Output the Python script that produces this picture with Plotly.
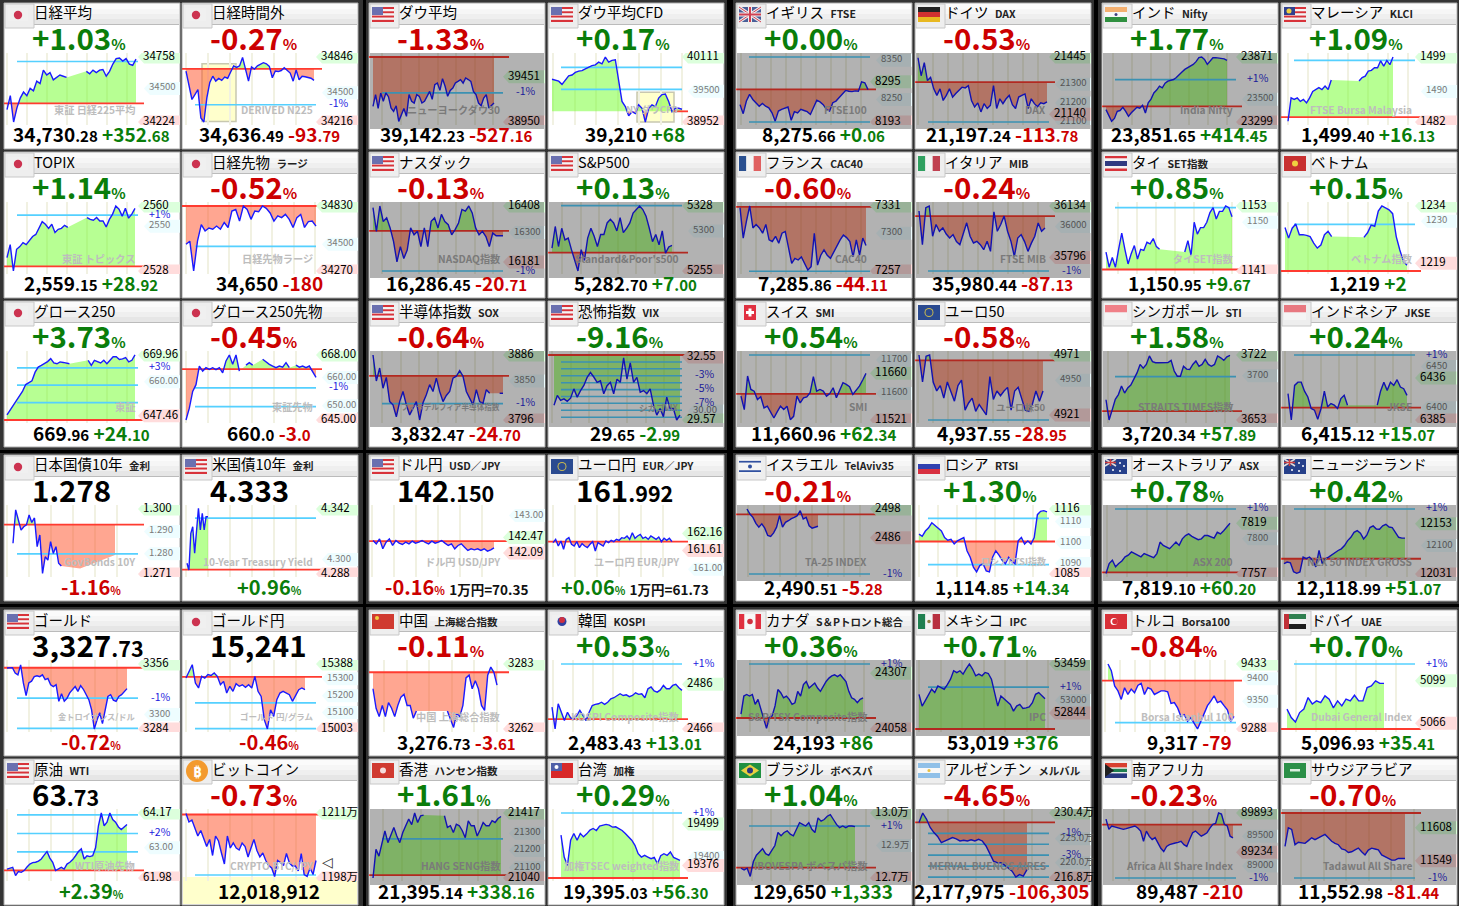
import plotly.graph_objects as go

W, H = 1459, 906
COL_X = [4, 182, 369, 548, 736, 915, 1102, 1281]
ROW_Y = [3, 152, 301, 455, 610, 759]
PW, PH = 176, 146

# ---------- series (None = no trade printed, the area still spans it) ----------
N = None
nikkei = [34326,34440,34224,34340,34420,34470,34440,34500,34480,34560,34540,34650,34610,34630,34570,34590,34610,34600,34590,N,N,N,N,N,34640,34620,34650,34630,34650,34655,34600,34640,34700,34745,34750,34725,34745,34700,34690,34740]
nikkei_ext = [34710,34580,34434,34482,34531,34255,34216,34450,34600,34660,34612,34638,34619,34651,34640,34700,34759,34745,34760,34842,34720,34612,34750,34730,34760,34775,34791,34780,34755,34645,34710,34705,34715,34742,34720,34690,34612,34720,34625,34660,34655,34645,34640,34620]
dow = [39123,39253,39100,39271,39180,39271,39230,39105,39068,39130,38957,39031,39100,39013,39253,39180,39160,39253,39234,39160,39180,39234,39289,39200,39363,39382,39300,39430,39345,39234,39300,39326,39382,39400,39419,39380,39437,39420,39400,39289,39253,39160,39130,39216,39253,39105,39130,39160]
dow_cfd = [39714,39696,39680,39623,39700,39775,39790,39836,39860,39867,39900,39928,39958,39970,40019,39989,40110,40019,40050,40062,39684,39318,39226,39062,39135,39104,39257,39196,38952,39196,39257,39226,39379,39440,39452,39318,39135,39196,39196,39180]
ftse = [8237,8214,8246,8263,8250,8242,8233,8240,8233,8229,8216,8195,8220.5,8225,8228,8231,8197,8219,8216,8225,8222,8219,8212,8229,8248,8244,8237,8225,8220.5,8242,8246,8255,8263,8273,8271,8270,8272,8271,8295,8292.5,8275]
dax = [21441,21345,21415,21319,21336,21275,21240,21275,21213,21240,21275,21231,21250,21266,21284,21280,21292,21213,21178,21200,21152,21196,21170,21187,21292,21170,21222,21196,21222,21240,21190,21170,21231,21240,21248,21170,21222,21196,21180,21200,21196,21205]
nifty = [23408,23349,23305,23330,23393,23400,23428,23393,23349,23380,23408,23428,23420,23446,23378,23467,23500,23555,23580,23614,23600,23640,23659,23665,23673,23690,23718,23740,23762,23775,23791,23806,23830,23865,23871,23850,23806,23840,23865,23865,23860,23859,23855,23841]
klci = [1482.2,1488.3,1487.9,1488.3,1487.4,1487.9,1487,1488.3,1490,1490.5,1491,1490.5,1491.4,1490.5,1493,N,N,N,N,N,N,N,N,1492.7,1493.6,1494,1495.3,1495.5,1496.2,1496.2,1498,1496.6,1498.1,1497,1499]
topix = [2534.6,2541,2528,2538.7,2540,2542,2541,2543,2545,2546,2549.3,2552.3,2551,2549,2551,2547,2548.5,2549,2550.5,2549.5,N,N,N,N,N,2554.3,2553.4,2553,2554.3,2552.6,2552.6,2549.7,2553.4,2556,2560,2558.4,2555,2558.9,2554,2556,2558.8]
n225fut = [34500,34527,34270,34527,34670,34615,34640,34630,34657,34630,34688,34645,34787,34800,34700,34830,34800,34715,34787,34780,34830,34810,34770,34700,34745,34730,34758,34715,34645,34730,34758,34645,34695,34700,34657]
nasdaq = [16401,16305,16408,16345,16360,16319,16264,16181,16243,16195,16229,16319,16291,16305,16243,16319,16243,16346,16360,16319,16374,16345,16332,16291,16312,16339,16394,16387,16408,16380,16319,16291,16305,16284,16243,16298,16287,16287,16287]
sp500 = [5280.6,5305,5282.5,5303,5290,5292,5279,5267,5255,5279,5267,5292,5303,5294,5282.5,5296,5296,5309,5313,5309,5300,5315,5298,5303,5309,5320,5324,5328,5324,5316.6,5303,5288,5296,5284.4,5300,5275,5282,5283.7]
cac = [7329,7294.5,7313.7,7331,7306,7310,7306,7300,7310,7292.5,7290.6,7296.4,7288.7,7300,7302,7283,7265.6,7271.4,7269.5,7273,7265.6,7258,7262,7300,7263.7,7275,7281,7275,7271.4,7279,7285,7292.5,7298,7295,7290.6,7273,7292.5,7275,7294.5,7286]
mib = [36101,35880,36123,36134,35935,36012.5,35968,35990,35950,35924,35946,35900,35880,35946,36023.5,35935,35891,35902,35880,35847,35902,35836,36096,35968,36012.5,36068,35968,35902,35803,35924,35946,35900,35836,35890,35935,36023,35968,35990]
set_idx = [1144.5,1141.7,1143.5,1141.7,1145,1148,1145,1142.3,1144.2,1145.7,1143.2,1145,1144.8,1146.3,1146,1147,1145.5,1145,N,N,N,N,N,N,N,1144.5,1146.6,1143.9,1150,1147.8,1149,1149,1150,1151.8,1152.7,1150.6,1152,1152,1153,1152.7,1151]
vnindex = [1228.4,1225.6,1228.2,1229.3,1226.5,1226.5,1226.3,1226,1224.3,1223,1223.8,1226.5,1227.4,1226,N,N,N,N,N,N,N,N,1225.8,1227,1229,1228.7,1232.7,1234,1233.5,1233,1232,1226,1222.5,1219.5,1218.5]
g250 = [647.8,649.6,651,652.8,655,656.6,659,659.8,660.4,663.6,665.5,666.1,666.7,667.5,668.6,667,666.7,667.4,667.2,667,666.7,N,N,N,N,N,668,666.1,668,667.4,667,668,666.7,668,669.3,669.3,668.3,668.5,669,667.4,668,670]
g250fut = [645,649.2,655.1,657.5,664.1,662.3,663.5,662.9,663.5,662.8,663.5,661.7,665.9,668,664.7,668,662.3,N,664.4,665.3,664.4,N,N,666.5,665.5,664.7,664.1,663.5,664.1,663.7,665.3,663.5,N,664.4,663.7,664.1,663.5,664.1,662.3,660.1]
sox = [3886,3850,3868,3840,3855,3821.5,3817,3800.5,3821.5,3835.5,3817,3803,3812,3821.5,3796,3820,3831,3845,3835.5,3854,3835.5,3821.5,3830,3835.5,3854,3856.6,3864.5,3856.6,3835.5,3826,3817,3838,3821.5,3819,3838,3833,N,N,3833,3833]
vix = [30.27,30.73,30.5,30.57,30.45,30.6,31.04,30.65,30.96,31.2,31.58,31.81,31.6,31.35,31.42,30.81,31.19,31.35,30.81,31.5,31.35,32.5,31.5,32.27,31.35,31.58,30.88,30.96,30.81,31.04,30.27,29.8,30.11,29.73,30.65,30.11,30.11,29.57,29.8]
smi = [11592,11552,11652,11612,11607,11582,11590,11557,11562,11542,11527,11545,11562,11552,11562,11522,11532,11592,11572,11587,11590,11602,11650,11607,11612,11607,11592,11600,11617,11587,11610,11632,11627,11620,11597,11610,11622,11640,11660]
euro50 = [4971,4948.5,4970,4971,4948.5,4941,4945.5,4935,4948.5,4940,4932.5,4945.5,4950,4925,4931,4935,4924,4929.7,4925,4921,4953,4934,4941,4937,4941,4944,4925,4941,4944,4935,4925,4924,4930,4941,4932.5,4941]
sti = [3674.5,3653,3663.8,3675,3680,3689,3681.6,3687,3690,3696,3703,3712,3708,3712,3721,3715,3713.8,3713.8,3713.8,3713.8,3714,3716.3,3705,3699.5,3699.5,3710,3707,3706.6,3712,3715.6,3710,3712,3717.4,3712,3710,3712,3721,3719,3716.3,3720,3721.6]
jkse = [6417,6385,6427,6431,6431,6420,6413,6399,6397,6386,6399,6420,6401,6405,6403,6399,6411,6415,6403,N,N,N,N,N,N,N,N,6403,6420,6431,6421,6431,6427,6434,6425,6423,6415]
jgb = [1.2847,1.2996,1.2951,1.2906,1.2921,1.2929,1.2973,1.2940,1.2960,1.2832,1.2884,1.2713,1.2787,1.2772,1.2854,1.2802,1.2832,1.2758,1.2746,N,N,N,N,N,N,1.2735,N,N,N,N,N,N,N,N,N,N,N,N,1.2795]
ust = [4.2969,4.2913,4.3218,4.3273,4.3052,4.3273,4.3426,4.3246,4.3384,4.3246,4.3356,4.3356]
usdjpy = [142.394,142.313,142.434,142.193,142.354,142.434,142.273,142.394,142.33,142.297,142.354,142.313,142.378,142.33,142.354,142.394,142.346,142.313,142.378,142.33,142.354,142.394,142.33,142.273,142.313,142.193,142.273,142.313,142.233,142.152,142.193,142.168,142.193,142.152,142.193,142.136,142.168,142.217]
eurjpy = [161.863,161.97,161.755,161.917,161.648,161.97,162.024,161.809,161.755,161.895,161.701,161.83,161.755,161.701,161.809,161.895,161.594,161.863,161.809,161.755,161.917,161.863,161.938,161.895,161.97,161.938,162.024,162.003,162.078,161.97,162.185,162.003,162.078,162.131,162.003,162.046,161.97,162.078,162.024,161.97,162.046,161.895,162.003,161.938,162.003,161.895]
ta35 = [2498,2495.9,2494.5,2492,2490.4,2491.8,2490,2486.9,2486.5,2488,2490.4,2495.2,2490.4,2492.4,2493.1,2494,2494.5,2495.2,2497.3,2493.8,2494.5,2491,2490,2490.5,2490.8]
rtsi = [1104,1103,1105.5,1107,1109.4,1108,1107,1105.5,1102.4,1101.1,1101.5,1099.3,1100.8,1101.5,1102.4,1096.1,1093,1088.3,1086,1089,1089.9,1086.5,1086,1093,1096.1,1094,1091.5,1089.9,1093,1091,1089.9,1100.8,1102.4,1099.3,1100.8,1099.3,1102.4,1113.3,1114.9,1115.2,1114.6]
asx = [7757.7,7769.8,7773.8,7765.8,7769.8,7773,7777.9,7780,7784,7782,7780,7778,7782,7780,7778,7777,7782,7796,7792,7790,7788,7792,7796,7792,7800,7804,7806,7803,7801,7799,7800,7804,7804,7802,7801,7808,7806,7810,7814,7819]
nz50 = [12056,12060,12058,12036.5,12032.6,12036,12072,12068,12072,12064,12048,12088,12056,12068,12072,12078,12084,12088,12092,12100,12112,12120,12132,12136,12130,12116,12125,12143.5,12147.5,12140,12139.5,12148,12151.5,12145,12143.5,12130,12120,12118,12118]
gold = [3351.6,3352,3352,3346,3344,3355,3335,3321,3335,3337,3342,3343,3342,3344,3338.7,3340,3333,3331,3333,3314.7,3323,3314.7,3318,3324,3328,3331,3325.7,3332,3328,3322,3316.5,3305.4,3284,3294,3302,3290,3303.6,3320,3322,3316,3314.7,3320,3322,3325,3328.7]
goldjpy = [15305,15345,15384,15275,15246,15315,15305,15325,15320,15335,15315,15265,15285,15216,15256,15226,15271,15256,15265,15250,15265,15246,15315,15226,15196,15058,15003,15117,15078,15177,15216,15226,15215,15206,15167,15200,15236,15246,15236]
shanghai = [3275,3268.7,3266,3269.6,3266,3270.5,3268.7,3266,3269.6,3272.3,3273.2,3269.6,3269.6,3265.5,3267.8,N,N,N,N,N,N,N,N,N,3267.8,3265,3262.5,3267,3266,3269.6,3278.5,3279.4,3275,3277.6,3275,3269.6,3268,3279.4,3282,3280.3,3276.2]
kospi = [2475.8,2466,2477.3,2473.5,2469.8,2473.5,2471,2470.5,2472,2474.3,2472,2469.8,2473.5,2476.5,2477,2477.3,2478,2477,2478,2479.5,2480,2481,2481.8,2481,2481.3,2480.5,2481,2482.2,2481.5,2481.8,2480,2484,2484.8,2483,2482.5,2483.5,2485.5,2484,2484,2485.5,2486,2484.5,2483.3]
tsx = [24124,24205,24212,24205,24212,24168,24190,24150,24102,24061,24109,24117,24161,24234,24220,24197,24205,24190,24168,24175,24226,24205,24256,24270,24241,24250,24263,24241,24226,24248,24270,24285,24295,24300,24292,24300,24285,24270,24226,24197,24190,24175,24190,24197]
ipc = [53078,52930,53000,53078,53142,53100,53184,53163,53142,53200,53269,53374,53350,53374,53332,53400,53459,53396,53311,53332,53311,53353,53340,53269,53100,52930,53057,53020,52994,52950,52867,52930,52952,52900,52909,52920,52973,53078,53100,53060,53023]
bist = [9433,9418,9384,9373,9354,9380,9365,9377,9369,9385,9390,9365,9380,9377,9365,9369,9373,9373,9371,9345,9347,9335,9316,9320,9305,9313,9301,9288,9305,9324,9340,9350,9362,9347,9350,9340,9331,9305,9316]
dfm = [5077,5070.4,5067,5074.3,5077,5086,5081,5083.4,5082,5087.3,5084.7,5078,5083.4,5079.5,5084.7,5083.4,5087.8,5083.4,5083.4,5093.8,5095,5099,5097,5097]
wti = [62.28,62.3,62.34,62.06,62.2,62.17,62.23,62.35,62.45,62.5,62.51,62.55,62.62,62.75,62.87,62.65,62.51,62.23,62.3,62.34,62.28,62.45,62.51,62.6,62.73,62.87,62.96,62.62,62.73,62.7,62.73,63.0,63.74,64.17,63.74,63.86,64.17,63.95,63.86,63.7,63.61,63.69,63.78]
btc = [1210.9,1209.2,1209.6,1208,1206.4,1207.5,1206,1204.3,1205.7,1202.5,1206.4,1205.4,1203,1200.8,1206.4,1204,1205,1204,1203.6,1205,1204.3,1202.2,1204,1205.7,1203.5,1202.2,1203,1201.5,1200.5,1200,1198.3,1201.5,1201.1,1200.5,1202.9,1201,1200.4,1200.4,1199.4,1202.9,1198.7,1198.3,1200,1198.7,1201.5]
hsi = [21040,21206,21167,21250,21313,21245,21284,21333,21284,21245,21304,21343,21382,21350,21417,21362,21401,21405,N,N,N,N,N,N,21401,21333,21343,21304,21352,21343,21314,21274,21372,21343,21343,21284,21320,21362,21343,21343,21372,21362,21385,21397]
taiex = [19466,19401,19376,19451,19471,19451,19471,19461,19470,19481,19486,19480,19493,19495,19498,19496,19490,19491,19486,19480,19471,19460,19451,19436,19411,19401,19406,19401,19396,19400,19381,19405,19411,19406,19416,19400,19396,19391]
bovespa = [12.83,12.825,12.83,12.805,12.85,12.87,12.88,12.89,12.875,12.87,12.885,12.9,12.94,12.93,12.94,12.945,12.935,12.93,12.95,12.97,12.965,12.96,12.97,12.95,12.94,12.985,12.975,12.98,12.99,12.995,12.98,12.965,12.955,12.96,12.955,12.96,12.96,12.958]
merval = [228.43,230.4,229.13,227.37,226.3,225.5,224.2,224.6,224.9,225.26,225,224.55,224.7,224.55,224.8,224.55,224.9,224.55,223.5,221.74,220.33,220,220,219.5,218.92,218.22,217,217.5,217.2,218.57]
jse = [89790,89618,89675,89660,89647,89640,89618,89630,89647,89660,89675,89640,89589,89417,89589,89500,89446,89480,89389,89300,89245,89330,89360,89380,89389,89400,89417,89360,89331,89450,89561,89589,89540,89503,89530,89561,89640,89704,89720,89893,89876,89704,89675,89503,89475]
tasi = [11574.5,11608,11605,11577.6,11582,11580.6,11580,11585,11590,11586.7,11590,11592.8,11596,11590,11583.7,11580,11577.6,11570,11568.5,11563.6,11565,11568.5,11571.5,11565,11559.3,11568,11571.5,11570,11568.5,11559.3,11556,11553,11550,11550,11553,11553,11553]

SERIES = [nikkei,nikkei_ext,dow,dow_cfd,ftse,dax,nifty,klci,
          topix,n225fut,nasdaq,sp500,cac,mib,set_idx,vnindex,
          g250,g250fut,sox,vix,smi,euro50,sti,jkse,
          jgb,ust,usdjpy,eurjpy,ta35,rtsi,asx,nz50,
          gold,goldjpy,shanghai,kospi,tsx,ipc,bist,dfm,
          wti,btc,hsi,taiex,bovespa,merval,jse,tasi]

# ---------- texts and values, reading order ----------
TITLES = ["日経平均","日経時間外","ダウ平均","ダウ平均CFD","イギリス","ドイツ","インド","マレーシア",
          "TOPIX","日経先物","ナスダック","S&P500","フランス","イタリア","タイ","ベトナム",
          "グロース250","グロース250先物","半導体指数","恐怖指数","スイス","ユーロ50","シンガポール","インドネシア",
          "日本国債10年","米国債10年","ドル円","ユーロ円","イスラエル","ロシア","オーストラリア","ニュージーランド",
          "ゴールド","ゴールド円","中国","韓国","カナダ","メキシコ","トルコ","ドバイ",
          "原油","ビットコイン","香港","台湾","ブラジル","アルゼンチン","南アフリカ","サウジアラビア"]
SUBS = ["","","","","FTSE","DAX","Nifty","KLCI",
        "","ラージ","","","CAC40","MIB","SET指数","",
        "","","SOX","VIX","SMI","","STI","JKSE",
        "金利","金利","USD／JPY","EUR／JPY","TelAviv35","RTSI","ASX","",
        "","","上海総合指数","KOSPI","S＆Pトロント総合","IPC","Borsa100","UAE",
        "WTI","","ハンセン指数","加権","ボベスパ","メルバル","",""]
FLAGS = ["JP","JP","US","US","UK","DE","IN","MY",
         "JP","JP","US","US","FR","IT","TH","VN",
         "JP","JP","US","US","CH","EU","SG","ID",
         "JP","US","US","EU","IL","RU","AU","NZ",
         "US","JP","CN","KR","CA","MX","TR","AE",
         "US","BTC","HK","TW","BR","AR","ZA","SA"]
TOP = ["+1.03|%","-0.27|%","-1.33|%","+0.17|%","+0.00|%","-0.53|%","+1.77|%","+1.09|%",
       "+1.14|%","-0.52|%","-0.13|%","+0.13|%","-0.60|%","-0.24|%","+0.85|%","+0.15|%",
       "+3.73|%","-0.45|%","-0.64|%","-9.16|%","+0.54|%","-0.58|%","+1.58|%","+0.24|%",
       "1.278|","4.333|","142|.150","161|.992","-0.21|%","+1.30|%","+0.78|%","+0.42|%",
       "3,327|.73","15,241|","-0.11|%","+0.53|%","+0.36|%","+0.71|%","-0.84|%","+0.70|%",
       "63|.73","-0.73|%","+1.61|%","+0.29|%","+1.04|%","-4.65|%","-0.23|%","-0.70|%"]
VALUE = ["34,730|.28","34,636|.49","39,142|.23","39,210|","8,275|.66","21,197|.24","23,851|.65","1,499|.40",
         "2,559|.15","34,650|","16,286|.45","5,282|.70","7,285|.86","35,980|.44","1,150|.95","1,219|",
         "669|.96","660|.0","3,832|.47","29|.65","11,660|.96","4,937|.55","3,720|.34","6,415|.12",
         "-1.16|%","+0.96|%","-0.16|%","+0.06|%","2,490|.51","1,114|.85","7,819|.10","12,118|.99",
         "-0.72|%","-0.46|%","3,276|.73","2,483|.43","24,193|","53,019|","9,317|","5,096|.93",
         "+2.39|%","12,018,912|","21,395|.14","19,395|.03","129,650|","2,177,975|","89,487|","11,552|.98"]
CHANGE = ["+352|.68","-93|.79","-527|.16","+68|","+0|.06","-113|.78","+414|.45","+16|.13",
          "+28|.92","-180|","-20|.71","+7|.00","-44|.11","-87|.13","+9|.67","+2|",
          "+24|.10","-3|.0","-24|.70","-2|.99","+62|.34","-28|.95","+57|.89","+15|.07",
          "","","","","-5|.28","+14|.34","+60|.20","+51|.07",
          "","","-3|.61","+13|.01","+86|","+376|","-79|","+35|.41",
          "","","+338|.16","+56|.30","+1,333|","-106,305|","-210|","-81|.44"]
NOTES = {26: "1万円=70.35", 27: "1万円=61.73"}
HI = [34758,34846,39451,40111,8295,21445,23871,1499,
      2560,34830,16408,5328,7331,36134,1153,1234,
      669.96,668,3886,32.55,11660,4971,3722,6436,
      1.300,4.342,142.47,162.16,2498,1116,7819,12153,
      3356,15388,3283,2486,24307,53459,9433,5099,
      64.17,1211,21417,19499,13.0,230.4,89893,11608]
LO = [34224,34216,38950,38952,8193,21140,23299,1482,
      2528,34270,16181,5255,7257,35796,1141,1219,
      647.46,645,3796,29.57,11521,4921,3653,6385,
      1.271,4.288,142.09,161.61,2486,1085,7757,12031,
      3284,15003,3262,2466,24058,52844,9288,5066,
      61.98,1198,21040,19376,12.8,216.8,89234,11549]
HI_TXT = ["34758","34846","39451","40111","8295","21445","23871","1499",
          "2560","34830","16408","5328","7331","36134","1153","1234",
          "669.96","668.00","3886","32.55","11660","4971","3722","6436",
          "1.300","4.342","142.47","162.16","2498","1116","7819","12153",
          "3356","15388","3283","2486","24307","53459","9433","5099",
          "64.17","1211万","21417","19499","13.0万","230.4万","89893","11608"]
LO_TXT = ["34224","34216","38950","38952","8193","21140","23299","1482",
          "2528","34270","16181","5255","7257","35796","1141","1219",
          "647.46","645.00","3796","29.57","11521","4921","3653","6385",
          "1.271","4.288","142.09","161.61","2486","1085","7757","12031",
          "3284","15003","3262","2466","24058","52844","9288","5066",
          "61.98","1198万","21040","19376","12.7万","216.8万","89234","11549"]
CLOSE = [34377.6,34730.28,39669.39,39142,8275.6,21311.02,23437.2,1483.27,
         2530.23,34830,16307.16,5275.7,7329.97,36067.57,1141.28,1217,
         645.86,663,3857.17,32.64,11598.62,4966.5,3662.45,6400.05,
         1.293,4.2916,142.378,161.895,2495.79,1100.51,7758.9,12067.92,
         3351.86,15311.4,3280.34,2470.42,24107,52643,9396,5061.52,
         62.24,1210.7,21056.98,19338.73,12.8317,228.43,89697,11634.42]
# round-number labels on the right, (value, text)
LEVELS = [[(34500,"34500")],[(34500,"34500")],[],[(39500,"39500")],[(8350,"8350"),(8250,"8250")],[(21300,"21300"),(21200,"21200"),(21100,"21100")],[(23500,"23500")],[(1490,"1490")],
          [(2550,"2550")],[(34500,"34500")],[(16300,"16300")],[(5300,"5300")],[(7300,"7300")],[(36000,"36000")],[(1150,"1150")],[(1230,"1230")],
          [(660,"660.00")],[(660,"660.00"),(650,"650.00")],[(3850,"3850")],[(30,"30.00")],[(11700,"11700"),(11600,"11600")],[(4950,"4950")],[(3700,"3700")],[(6450,"6450"),(6400,"6400")],
          [(1.29,"1.290"),(1.28,"1.280")],[(4.3,"4.300")],[(143,"143.00")],[(161,"161.00")],[],[(1110,"1110"),(1100,"1100"),(1090,"1090")],[(7800,"7800")],[(12100,"12100")],
          [(3300,"3300")],[(15300,"15300"),(15200,"15200"),(15100,"15100")],[(3250,"3250")],[],[],[(53000,"53000")],[(9400,"9400"),(9350,"9350")],[],
          [(63,"63.00")],[],[(21300,"21300"),(21200,"21200"),(21100,"21100")],[(19400,"19400")],[(12.9,"12.9万")],[(225,"225.0万"),(220,"220.0万")],[(89500,"89500"),(89000,"89000")],[]]
# percent-from-close guide lines
GUIDES = [[34721],[34383],[39273],[39534,39925],[8358,8192.8],[21098],[23671.6],[1498.1],
          [2555.5],[34482],[16144],[5328.4],[7256.7],[35707],[1152.7],[1229.2],
          [652.3,658.8,665.2],[656.4,649.7],[3818.6],[32.31,31.99,31.66,31.33,31.0,30.68,30.36,30.03,29.7],[11714.6],[4916.8],[3699],[6464],
          [1.28],[4.3345],[],[],[2470.8],[1111.5,1089.5],[7836.5],[12188.6],
          [3318.3,3284.8],[15158,15005],[3247.5],[2495.1],[24348],[53169],[9302],[5112.1],
          [62.86,63.48,64.11],[1198.6],[21267.5],[19532],[12.96],[226.14,223.86,221.57,219.3,217.0],[88800],[11518]]
PCT_LABELS = {1:[(34383,"-1%")],2:[(39273,"-1%")],6:[(23671.6,"+1%")],
              8:[(2555.5,"+1%")],10:[(16144,"-1%")],13:[(35707,"-1%")],
              16:[(665.2,"+3%")],17:[(656.4,"-1%")],18:[(3818.6,"-1%")],
              19:[(31.66,"-3%"),(31.0,"-5%"),(30.36,"-7%")],23:[(6464,"+1%")],
              28:[(2470.8,"-1%")],30:[(7836.5,"+1%")],31:[(12188.6,"+1%")],
              32:[(3318.3,"-1%")],35:[(2495.1,"+1%")],36:[(24348,"+1%")],37:[(53169,"+1%")],39:[(5112.1,"+1%")],
              40:[(63.48,"+2%")],43:[(19532,"+1%")],44:[(12.96,"+1%")],45:[(226.14,"-1%"),(221.57,"-3%")],46:[(88800,"-1%")],47:[(11518,"-1%")]}
WATERMARK = ["東証 日経225平均","DERIVED N225","ニューヨークダウ30","NY ダウCFD","FTSE100","DAX","India Nifty","FTSE Bursa Malaysia",
             "東証 トピックス","日経先物ラージ","NASDAQ指数","Standard&Poor's500","CAC40","FTSE MIB","タイSET指数","ベトナム指数",
             "東証","東証先物","フィラデルフィア半導体指数","シカゴVIX","SMI","ユーロ株50","STRAITS TIMES指数","JKSE",
             "GovBonds 10Y","10-Year Treasury Yield","ドル円 USD/JPY","ユーロ円 EUR/JPY","TA-25 INDEX","ロシアRTSI指数","ASX 200","NZX 50 INDEX GROSS",
             "金トロイオンス/ドル","ゴールド 円/グラム","中国 上海総合指数","KOSPI Composite指数","S&P/TSX Composite指数","IPC","Borsa Istanbul 100","Dubai General Index",
             "WTI原油先物","CRYPTO BTC/JPY","HANG SENG指数","加権TSEC weighted指数","IBOVESPA ボベスパ指数","MERVAL BUENOS AIRES","Africa All Share Index","Tadawul All Share"]
CLOSED = {2,4,5,6,10,11,12,13,18,19,20,21,22,23,28,30,31,36,37,42,44,45,46,47}
INVERTED = {19}
# vertical extent of the chart when it differs from the day's range: (top value, bottom value)
EXTENT = {4:(8358,8192.8),5:(21445,21098),10:(16408,16144),13:(36134,35707),20:(11714.6,11521),21:(4971,4916.8),23:(6464,6385),
          26:(143.16,141.58),27:(162.95,160.85),28:(2498,2470.8),30:(7836.5,7757),31:(12188.6,12031),
          35:(2495.1,2466),36:(24348,24058),39:(5112.1,5061.52),43:(19532,19338.73),46:(89893,88800),47:(11634.42,11518)}

# ---------- pixel layout, offsets from each panel's left edge ----------
SESSION_X0 = [3,4,4,4,4,3,4,7, 3,4,4,4,4,4,4,4, 3,4,4,6,5,4,4,7, 9,5,4,5,11,4,4,3, 3,4,4,4,5,4,6,6, 3,4,4,13,5,4,4,4]
SESSION_X1 = [132,132,125,134,132,132,125,112, 131,134,134,124,130,130,130,126, 131,134,134,132,130,128,128,126, 111,26,125,124,82,132,128,124, 123,123,128,134,127,130,132,103, 123,134,132,132,119,112,131,124]
GRID_X0 = [3,4,13,5,5,3,11,7, 3,4,13,14,5,3,16,7, 3,4,13,4,5,3,6,4, 3,4,3,5,12,4,5,3, 3,4,15,5,14,4,3,15, 3,4,14,5,16,5,11,20]
GRID_DX = [20,22,18.5,21.5,15,15,19,20, 20,21.5,18.5,18.5,15,15,19,20, 20,22,18.5,18.7,15,15,19.5,18, 22,22,22,22,16,19,20,20.5, 22,22,22.5,20,19,21.5,15,20, 22,22,19,20,19,28,16,22.5]
BOXES = {1:(20,54,34781,34222),3:(89,126,39482,38952)}
CLOSE_FROM = {3:125}
WM_SIZE = {18:7.6,19:8.5,29:9,32:8.2,33:8.5,3:9.5,21:9.5}

GREEN_TXT, RED_TXT = "#0a7d0a", "#cc0000"
FONT = "Noto Sans CJK JP, Noto Sans, sans-serif"
fx = lambda px: px / W
fy = lambda py: 1 - py / H

shapes, annots, traces = [], [], []
layout_axes = {}


def rect(x0, y0, x1, y1, fill, line=None, lw=0, layer="below"):
    shapes.append(dict(type="rect", xref="paper", yref="paper", x0=fx(x0), x1=fx(x1), y0=fy(y0), y1=fy(y1),
                       fillcolor=fill, line=dict(color=line or fill, width=lw), layer=layer))


def circ(cx, cy, r, fill):
    shapes.append(dict(type="circle", xref="paper", yref="paper", x0=fx(cx - r), x1=fx(cx + r), y0=fy(cy - r), y1=fy(cy + r),
                       fillcolor=fill, line=dict(width=0), layer="below"))


def seg(x0, y0, x1, y1, color, w):
    shapes.append(dict(type="line", xref="paper", yref="paper", x0=fx(x0), x1=fx(x1), y0=fy(y0), y1=fy(y1),
                       line=dict(color=color, width=w), layer="below"))


def poly(pts, fill):
    d = "M" + " L".join(f"{fx(a):.5f},{fy(b):.5f}" for a, b in pts) + " Z"
    shapes.append(dict(type="path", xref="paper", yref="paper", path=d, fillcolor=fill, line=dict(width=0), layer="below"))


def bands(x0, y0, x1, y1, colors, horizontal=True, weights=None):
    weights = weights or [1] * len(colors)
    total, pos = sum(weights), 0
    for c, wt in zip(colors, weights):
        a, b = pos / total, (pos + wt) / total
        pos += wt
        if horizontal:
            rect(x0, y0 + (y1 - y0) * a, x1, y0 + (y1 - y0) * b, c)
        else:
            rect(x0 + (x1 - x0) * a, y0, x0 + (x1 - x0) * b, y1, c)


def union(x0, y0, x1, y1):
    rect(x0, y0, x1, y1, "#2a3f80")
    seg(x0, y0, x1, y1, "#e0e0e0", 1.5)
    seg(x0, y1, x1, y0, "#e0e0e0", 1.5)
    seg((x0 + x1) / 2, y0, (x0 + x1) / 2, y1, "#d04040", 1.5)
    seg(x0, (y0 + y1) / 2, x1, (y0 + y1) / 2, "#d04040", 1.5)


def draw_flag(code, L, T):
    x0, x1, y0, y1 = L + 3, L + 25, T + 4, T + 19
    mx, my = (x0 + x1) / 2, (y0 + y1) / 2
    R, Wh = "#d8333a", "#f4f4f4"
    if code == "JP":
        rect(x0 + 1, y0 + 1, x1 - 1, y1 - 1, "#f0f0f0")
        circ(L + 14, T + 12, 4.2, "#cc3350")
    elif code == "US":
        bands(x0, y0, x1, y1, [R, Wh, R, Wh, R, Wh, R])
        rect(x0, y0, x0 + 11, y0 + 8, "#6a70b0")
    elif code == "UK":
        rect(x0, y0, x1, y1, "#4a5f98")
        seg(x0, y0, x1, y1, "#eeeeee", 3); seg(x0, y1, x1, y0, "#eeeeee", 3)
        seg(x0, y0, x1, y1, "#d04050", 1); seg(x0, y1, x1, y0, "#d04050", 1)
        seg(mx, y0, mx, y1, "#eeeeee", 4); seg(x0, my, x1, my, "#eeeeee", 4)
        seg(mx, y0, mx, y1, "#d04050", 2); seg(x0, my, x1, my, "#d04050", 2)
    elif code == "DE":
        bands(x0, y0, x1, y1, ["#222222", "#d03030", "#e8b820"])
    elif code == "FR":
        bands(x0, y0, x1, y1, ["#2a5090", "#f4f4f4", "#e06060"], False)
    elif code == "IT":
        bands(x0, y0, x1, y1, ["#30a060", "#f4f4f4", "#c04050"], False)
    elif code == "IN":
        bands(x0, y0, x1, y1, ["#f4b070", "#f8f8f8", "#309040"]); circ(mx, my, 1.5, "#404080")
    elif code == "MY":
        bands(x0, y0, x1, y1, [R, Wh, R, Wh, R, Wh, R]); rect(x0, y0, x0 + 11, y0 + 8, "#304090"); circ(x0 + 5, y0 + 4, 2.5, "#f0d040")
    elif code == "TH":
        bands(x0, y0, x1, y1, [R, Wh, "#303a80", Wh, R], True, [1, 1, 2, 1, 1])
    elif code == "VN":
        rect(x0, y0, x1, y1, "#c83030"); circ(mx, my, 3, "#f0d040")
    elif code == "CH":
        rect(x0 + 5, y0, x1 - 5, y1, "#e03040")
        rect(mx - 4, my - 1.5, mx + 4, my + 1.5, "#ffffff"); rect(mx - 1.5, my - 4, mx + 1.5, my + 4, "#ffffff")
    elif code == "EU":
        rect(x0, y0, x1, y1, "#2a4a90"); circ(mx, my, 4.5, "#c8b850"); circ(mx, my, 3.5, "#2a4a90")
    elif code == "SG":
        bands(x0, y0, x1, y1, ["#f08088", "#f4f4f4"])
    elif code == "ID":
        bands(x0, y0, x1, y1, ["#e87880", "#f4f4f4"])
    elif code == "IL":
        bands(x0, y0, x1, y1, ["#f4f4f4", "#3050a0", "#f4f4f4", "#3050a0", "#f4f4f4"], True, [1, 1, 4, 1, 1]); circ(mx, my, 2, "#3050a0")
    elif code == "RU":
        bands(x0, y0, x1, y1, ["#f4f4f4", "#3040b0", "#d83040"])
    elif code in ("AU", "NZ"):
        rect(x0, y0, x1, y1, "#26408a")
        union(x0, y0, x0 + 11, y0 + 7)
        for dx, dy in [(15, 4), (19, 7), (15, 12), (8, 11)]:
            circ(x0 + dx, y0 + dy, 1, "#ffffff")
    elif code == "CN":
        rect(x0, y0, x1, y1, "#d03a30"); circ(x0 + 5, y0 + 4, 2, "#f0d040")
    elif code == "KR":
        rect(x0 + 1, y0 + 1, x1 - 1, y1 - 1, "#f0f0f0"); circ(mx, my, 4.5, "#3040a0"); circ(mx, my - 1.5, 3, "#d03040")
    elif code == "CA":
        bands(x0, y0, x1, y1, ["#e03040", "#f8f8f8", "#e03040"], False, [1, 2, 1]); circ(mx, my, 2.8, "#d03040")
    elif code == "MX":
        bands(x0, y0, x1, y1, ["#208050", "#f4f4f4", "#b83040"], False); circ(mx, my, 1.8, "#908040")
    elif code == "TR":
        rect(x0, y0, x1, y1, "#d83038"); circ(mx - 2, my, 3.5, "#ffffff"); circ(mx - 1, my, 2.8, "#d83038")
    elif code == "AE":
        bands(x0 + 5, y0, x1, y1, ["#308050", "#f4f4f4", "#202020"]); rect(x0, y0, x0 + 5, y1, "#c03038")
    elif code == "HK":
        rect(x0, y0, x1, y1, "#d03a30"); circ(mx, my, 3, "#f4dcdc")
    elif code == "TW":
        rect(x0, y0, x1, y1, "#d82828"); rect(x0, y0, x0 + 11, y0 + 8, "#5060a8"); circ(x0 + 5.5, y0 + 4, 2, "#ffffff")
    elif code == "BR":
        rect(x0, y0, x1, y1, "#209040")
        poly([(x0 + 2, my), (mx, y0 + 1.5), (x1 - 2, my), (mx, y1 - 1.5)], "#e8d040"); circ(mx, my, 3, "#283880")
    elif code == "AR":
        bands(x0, y0, x1, y1, ["#90c0e8", "#f8f8f8", "#90c0e8"]); circ(mx, my, 1.6, "#e8c040")
    elif code == "ZA":
        bands(x0, y0, x1, y1, ["#d84030", "#f4f4f4", "#208050", "#f4f4f4", "#283880"], True, [4, 1, 3, 1, 4])
        poly([(x0, y0 + 1), (x0 + 9, my), (x0, y1 - 1)], "#202020")
    elif code == "SA":
        rect(x0, y0, x1, y1, "#2c9048"); rect(mx - 5, my - 1.5, mx + 5, my + 1, "#dcefe0")
    elif code == "BTC":
        circ(L + 15, T + 12, 11, "#f39a2e")
        annots.append(dict(xref="paper", yref="paper", x=fx(L + 15), y=fy(T + 12), text="<b>₿</b>", showarrow=False,
                           xanchor="center", yanchor="middle", font=dict(size=15, color="#ffffff", family="Noto Sans, DejaVu Sans")))


def rich(txt, big, small, color):
    main, _, tail = txt.partition("|")
    tail_html = f'<span style="font-size:{small}px">{tail}</span>' if tail else ""
    return f'<b><span style="color:{color};font-size:{big}px">{main}</span><span style="color:{color}">{tail_html}</span></b>'


def sign_color(txt, inverted=False):
    up = txt.startswith("+")
    return GREEN_TXT if (up != inverted) else RED_TXT


# group backgrounds
for gx0, gx1 in [(0, 363), (366, 727), (733, 1094), (1098, 1459)]:
    for gy0, gy1 in [(0, 450), (453, 604), (607, 906)]:
        rect(gx0, gy0, gx1, gy1, "#333333")

for i, s in enumerate(SERIES):
    r, c = divmod(i, 8)
    L, T = COL_X[c], ROW_Y[r]
    suf = "" if i == 0 else str(i + 1)
    xn, yn = "x" + suf, "y" + suf
    closed, inv = i in CLOSED, i in INVERTED

    # panel furniture
    rect(L, T, L + PW, T + PH, "#ffffff", "#aaaaaa", 1)
    for k, col in enumerate(["#fbfbfb", "#f6f6f6", "#efefef", "#e6e6e6"]):
        rect(L + 1, T + 1 + k * 5, L + PW - 1, T + 1 + (k + 1) * 5, col)
    rect(L + 1, T + 21, L + PW - 1, T + 22, "#bbbbbb")
    rect(L + 1, T + 1, L + 30, T + 25, "#eeeeee", "#c8c8c8", 1)
    draw_flag(FLAGS[i], L, T)
    if FLAGS[i] == "BTC":
        rect(L + 1, T + 118, L + PW - 1, T + PH - 1, "#ffffcc")

    # scales: top value sits 54px under the panel top, bottom value 119px under it
    top_v, bot_v = EXTENT.get(i, (max(HI[i], CLOSE[i]), min(LO[i], CLOSE[i])))
    per_px = (top_v - bot_v) / 65.0
    x0, x1 = SESSION_X0[i], SESSION_X1[i]
    span = float(x1 - x0)
    px2x = lambda p: (p - x0) / span
    ticks = []
    g = GRID_X0[i]
    while g <= 134:
        ticks.append(px2x(g))
        g += GRID_DX[i]
    layout_axes["xaxis" + suf] = dict(domain=[fx(L), fx(L + PW)], range=[px2x(0), px2x(PW)], anchor=yn,
                                      showgrid=True, gridcolor="#f1f1e2", gridwidth=2, tickmode="array", tickvals=ticks,
                                      showticklabels=False, ticks="", zeroline=False, showline=False, fixedrange=True)
    layout_axes["yaxis" + suf] = dict(domain=[fy(T + 122), fy(T + 50)], range=[bot_v - 3 * per_px, top_v + 4 * per_px], anchor=xn,
                                      showgrid=False, showticklabels=False, ticks="", zeroline=False, showline=False, fixedrange=True)

    # yellow session box
    if i in BOXES:
        a, b, vt, vb = BOXES[i]
        shapes.append(dict(type="rect", xref="paper", yref=yn, x0=fx(L + a), x1=fx(L + b), y0=vb, y1=vt, layer="below",
                           fillcolor="#ffffcc", line=dict(color="#c8c8b0", width=1.5)))

    # areas against the previous close
    n = len(s)
    xs = [k / (n - 1) for k in range(n)]
    pts = [(x, v) for x, v in zip(xs, s) if v is not None]
    base = CLOSE[i]
    dense = []
    for (xa, va), (xb, vb) in zip(pts, pts[1:]):
        dense.append((xa, va))
        if (va - base) * (vb - base) < 0:
            dense.append((xa + (xb - xa) * (base - va) / (vb - va), base))
    dense.append(pts[-1])
    up_col, dn_col = "rgba(112,255,40,0.5)", "rgba(255,78,36,0.5)"
    if inv:
        up_col, dn_col = dn_col, up_col
    for func, col in ((max, up_col), (min, dn_col)):
        ys = [func(v, base) for _, v in dense]
        if all(abs(v - base) < 1e-12 for v in ys):
            continue
        xp = [x for x, _ in dense]
        traces.append(go.Scatter(x=xp + xp[::-1], y=ys + [base] * len(xp), xaxis=xn, yaxis=yn, mode="lines", fill="toself",
                                 fillcolor=col, line=dict(width=0), hoverinfo="skip", showlegend=False))

    # guide lines
    if GUIDES[i]:
        gx, gy = [], []
        for v in GUIDES[i]:
            gx += [px2x(13), px2x(134), None]
            gy += [v, v, None]
        traces.append(go.Scatter(x=gx, y=gy, xaxis=xn, yaxis=yn, mode="lines", line=dict(color="#55d0ff", width=1.7),
                                 hoverinfo="skip", showlegend=False))
    # previous close
    traces.append(go.Scatter(x=[px2x(CLOSE_FROM.get(i, 0)), px2x(140)], y=[base, base], xaxis=xn, yaxis=yn, mode="lines",
                             line=dict(color="#ff3b30", width=1.8), hoverinfo="skip", showlegend=False))
    # price line
    traces.append(go.Scatter(x=xs, y=s, xaxis=xn, yaxis=yn, mode="lines", connectgaps=False,
                             line=dict(color="#1a1aff", width=1.4), hoverinfo="skip", showlegend=False))

    # right side tags
    def tag(val, txt, left, fill, color, size=11.5):
        tip = left - 6
        shapes.append(dict(type="path", xref="paper", yref=yn, xsizemode="pixel", ysizemode="pixel",
                           xanchor=fx(L + PW), yanchor=val, layer="above", fillcolor=fill, line=dict(width=0),
                           path=f"M{tip-PW},0 L{left-PW},6.5 L0,6.5 L0,-6.5 L{left-PW},-6.5 Z"))
        annots.append(dict(xref="paper", yref=yn, x=fx(L + left - 2), y=val, yshift=2, text=txt, showarrow=False, xanchor="left", yanchor="middle",
                           font=dict(size=size, color=color, family=FONT), borderpad=0))

    lvl_col = "#555555" if closed else "#7a7a7a"
    for v, t in LEVELS[i]:
        tag(v, t, 146, "#eefdff", lvl_col, 9.6)
    hi_fill, lo_fill = ("#ffdcdc", "#dcffdc") if inv else ("#dcffdc", "#ffdcdc")
    tag(HI[i], HI_TXT[i], 140, hi_fill, "#000000")
    tag(LO[i], LO_TXT[i], 140, lo_fill, "#000000")
    for v, t in PCT_LABELS.get(i, []):
        annots.append(dict(xref="paper", yref=yn, x=fx(L + 156), y=v, yshift=2, text=t, showarrow=False, xanchor="center", yanchor="middle",
                           font=dict(size=10.5, color="#1a1a99" if closed else "#2020dd", family=FONT)))

    # closed-market veil over the chart band
    if closed:
        rect(L + 1, T + 50, L + PW - 1, T + 126, "rgba(0,0,0,0.3)", layer="above")

    # texts
    annots.append(dict(xref="paper", yref="paper", x=fx(L + 133), y=fy(T + 106), text=f"<b>{WATERMARK[i]}</b>", showarrow=False,
                       xanchor="right", yanchor="middle", font=dict(size=WM_SIZE.get(i, 10.2), color="#7a7a7a" if closed else "#bdbdbd", family=FONT)))
    sub = f'  <b><span style="font-size:10.5px;color:#222">{SUBS[i]}</span></b>' if SUBS[i] else ""
    annots.append(dict(xref="paper", yref="paper", x=fx(L + 28), y=fy(T + 9), text=f"{TITLES[i]}{sub}", showarrow=False,
                       xanchor="left", yanchor="middle", font=dict(size=14.5, color="#000000", family=FONT)))
    tx = TOP[i]
    if tx.endswith("%"):
        top_html = rich(tx, 29.5, 15, sign_color(tx, inv))
    else:
        top_html = rich(tx, 29.5, 21.5, "#000000")
    annots.append(dict(xref="paper", yref="paper", x=fx(L + 26), y=fy(T + 34), text=top_html, showarrow=False,
                       xanchor="left", yanchor="middle", font=dict(size=29.5, family=FONT)))
    if VALUE[i].endswith("%"):
        bottom = rich(VALUE[i], 20, 11, sign_color(VALUE[i]))
        if i in NOTES:
            bottom += f' <b><span style="font-size:13.5px;color:#111">{NOTES[i]}</span></b>'
    else:
        bottom = rich(VALUE[i], 19, 15, "#000000")
        if CHANGE[i]:
            bottom += " " + rich(CHANGE[i], 19, 15, sign_color(CHANGE[i], inv))
    annots.append(dict(xref="paper", yref="paper", x=fx(L + 87), y=fy(T + 131), text=bottom, showarrow=False,
                       xanchor="center", yanchor="middle", font=dict(size=19, family=FONT)))
    if FLAGS[i] == "BTC":
        annots.append(dict(xref="paper", yref="paper", x=fx(L + 145), y=fy(T + 103), text="◁", showarrow=False, xanchor="center",
                           yanchor="middle", font=dict(size=14, color="#333333", family="DejaVu Sans")))

fig = go.Figure(traces)
fig.update_layout(width=W, height=H, margin=dict(l=0, r=0, t=0, b=0), autosize=False, paper_bgcolor="#000000",
                  plot_bgcolor="rgba(0,0,0,0)", showlegend=False, shapes=shapes, annotations=annots,
                  font=dict(family=FONT), **layout_axes)
fig.write_html("out.html", config=dict(displayModeBar=False),
               post_script="document.body.style.margin='0';document.body.style.background='#000';document.body.style.overflow='hidden';")
